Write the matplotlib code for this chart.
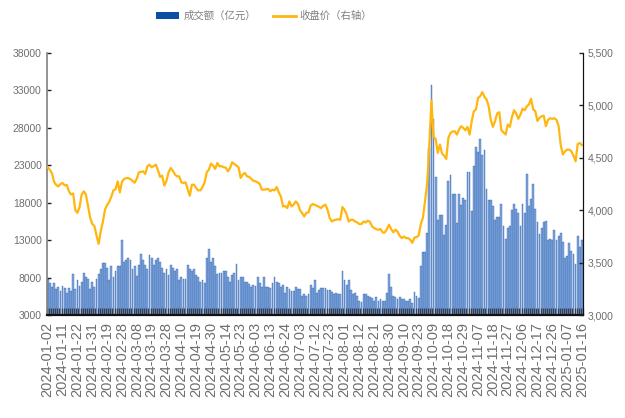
import numpy as np
import pandas as pd
import matplotlib
matplotlib.use('Agg')
import matplotlib.pyplot as plt
from matplotlib.ticker import FuncFormatter, FixedLocator
from matplotlib.patches import Patch
from matplotlib.lines import Line2D

# 交易日 (2024-01-02 ~ 2025-01-16), 去掉节假日
holidays = ['2024-02-09', '2024-02-12', '2024-02-13', '2024-02-14', '2024-02-15', '2024-02-16',
            '2024-04-04', '2024-04-05', '2024-05-01', '2024-05-02', '2024-05-03', '2024-06-10',
            '2024-09-16', '2024-09-17', '2024-10-01', '2024-10-02', '2024-10-03', '2024-10-04',
            '2024-10-07', '2025-01-01']
dates = pd.bdate_range('2024-01-02', '2025-01-16')
dates = dates[~dates.isin(pd.to_datetime(holidays))]
labels = [d.strftime('%Y-%m-%d') for d in dates]

# 成交额 (亿元)
volume = [
    7800, 7360, 6740, 7270, 6470, 6740, 6300, 6920, 6650, 6030,
    6650, 6300, 8500, 6470, 7720, 6920, 7500, 8700, 8130, 7900,
    6470, 7400, 6800, 7900, 8500, 9200, 10000, 10000, 9300, 7720,
    9560, 8130, 8960, 9560, 9560, 13100, 10150, 10350, 10600, 10350,
    9200, 9560, 8300, 9700, 11150, 10350, 9700, 9200, 10990, 10600,
    9700, 10350, 10600, 10150, 9300, 8700, 9200, 8400, 9700, 9300,
    8960, 9200, 7720, 8050, 7800, 7800, 9700, 9200, 8960, 9200,
    8400, 8130, 7500, 7720, 7360, 10600, 11800, 10150, 10700, 9560,
    8500, 8700, 8700, 8960, 8960, 8050, 7500, 8400, 8700, 9800,
    7720, 8100, 8100, 7450, 7450, 7180, 6830, 7050, 6920, 8100,
    7270, 6830, 8100, 6830, 6830, 6600, 7270, 8100, 7400, 7270,
    6830, 7050, 6030, 6830, 6470, 6300, 6300, 6830, 6470, 6470,
    5580, 5800, 5580, 5850, 7050, 6600, 7720, 6030, 6400, 6600,
    6600, 6600, 6400, 6400, 6170, 5850, 6030, 5850, 5850, 8900,
    7720, 7050, 7720, 6400, 5850, 6030, 5580, 4960, 4800, 5850,
    5850, 5580, 5400, 5250, 4960, 5400, 4850, 5130, 4960, 4850,
    6030, 8500, 6830, 5580, 5400, 5130, 5400, 5130, 5130, 4960,
    4960, 5130, 4700, 6170, 5580, 5350, 9560, 11400, 11400, 14000,
    25250, 33700, 29150, 21400, 15650, 16300, 16300, 13750, 15000, 20900,
    21700, 19200, 19150, 15250, 19150, 17650, 18650, 18400, 22100, 22100,
    16950, 22900, 25400, 24800, 26500, 24400, 25000, 19800, 18300, 18300,
    17600, 15700, 16150, 16150, 17850, 14900, 13200, 14650, 14900, 16970,
    17850, 17200, 16600, 14900, 17850, 16600, 21800, 17600, 18480, 20560,
    17200, 15420, 13870, 14650, 15420, 15560, 13000, 13150, 13000, 14400,
    13000, 13600, 14000, 12800, 10660, 10880, 12580, 11560, 11200, 9860,
    13600, 12100, 13000,
]

# 收盘价 (右轴)
close = [
    4408, 4385, 4350, 4270, 4240, 4227, 4250, 4259, 4237, 4240,
    4180, 4150, 4160, 4000, 3975, 4030, 4150, 4180, 4150, 4040,
    3930, 3870, 3850, 3760, 3680, 3800, 3890, 4005, 4050, 4080,
    4130, 4190, 4200, 4275, 4170, 4270, 4297, 4305, 4307, 4295,
    4280, 4262, 4300, 4361, 4365, 4370, 4345, 4420, 4434, 4409,
    4420, 4434, 4380, 4317, 4329, 4234, 4280, 4361, 4402, 4377,
    4340, 4323, 4323, 4265, 4260, 4265, 4200, 4138, 4243, 4243,
    4212, 4190, 4189, 4220, 4265, 4361, 4386, 4444, 4425, 4393,
    4450, 4418, 4420, 4409, 4405, 4370, 4402, 4456, 4440, 4425,
    4410, 4307, 4340, 4355, 4323, 4317, 4300, 4280, 4275, 4265,
    4250, 4196, 4196, 4200, 4203, 4180, 4196, 4189, 4221, 4170,
    4130, 4036, 4040, 4021, 4084, 4036, 4053, 4084, 4062, 4000,
    3973, 3941, 3975, 3979, 4043, 4059, 4050, 4043, 4031, 4021,
    4043, 4053, 4005, 3926, 3893, 3905, 3909, 3915, 3909, 4030,
    4005, 3960, 3893, 3909, 3909, 3893, 3884, 3868, 3868, 3893,
    3884, 3900, 3890, 3846, 3830, 3820, 3814, 3821, 3788, 3788,
    3821, 3862, 3821, 3790, 3814, 3798, 3757, 3735, 3750, 3735,
    3735, 3719, 3690, 3740, 3744, 3760, 3870, 3930, 4090, 4260,
    4620, 5045, 4700, 4679, 4545, 4625, 4540, 4520, 4488, 4690,
    4737, 4750, 4752, 4720, 4768, 4800, 4784, 4761, 4794, 4720,
    4847, 4943, 4959, 5071, 5086, 5124, 5080, 5054, 4990, 4860,
    4794, 4847, 4921, 4933, 4761, 4742, 4720, 4816, 4794, 4890,
    4952, 4920, 4870, 4911, 4966, 4952, 4990, 5007, 5061, 4960,
    4943, 4850, 4880, 4895, 4900, 4800, 4860, 4876, 4870, 4876,
    4860, 4800, 4620, 4530, 4561, 4577, 4577, 4561, 4520, 4466,
    4630, 4640, 4620,
]

n = len(labels)
x = np.arange(n)
grey = '#6e6e6e'

fig = plt.figure(figsize=(6.25, 4.18), dpi=100)
ax = fig.add_axes([0.0747, 0.2457, 0.8581, 0.6283])
ax2 = ax.twinx()

ax.bar(x, volume, width=0.85, color='#82a7db', edgecolor='#1f55a8', linewidth=0.25)
ax2.plot(x, close, color='#FFB60F', linewidth=1.6)

ax.set_xlim(-0.5, n - 0.5)
ax.set_ylim(3000, 38000)
ax.set_yticks(np.arange(3000, 38001, 5000))
ax2.set_ylim(3000, 5500)
ax2.set_yticks(np.arange(3000, 5501, 500))
ax2.yaxis.set_major_formatter(FuncFormatter(lambda v, p: f'{v:,.0f}'))

ax.set_xticks(x[::7])
ax.set_xticklabels(labels[::7], rotation=90, fontsize=10.5, color=grey,
                   family='Liberation Sans')
ax.tick_params(axis='x', which='major', length=0, pad=5)
ax.xaxis.set_minor_locator(FixedLocator(np.arange(-0.5, n, 1)))
ax.tick_params(axis='x', which='minor', direction='in', length=5, width=0.9, color='#3a3f4a')

for a in (ax, ax2):
    a.tick_params(axis='y', direction='in', length=3, width=1, color='#222222',
                  labelsize=7.5, labelcolor=grey)
    for lab in a.get_yticklabels():
        lab.set_family('Liberation Sans')
    a.spines['top'].set_visible(False)
ax.spines['left'].set_color('#808080')
ax.spines['left'].set_linewidth(1.2)
ax.spines['bottom'].set_color('#111111')
ax.spines['bottom'].set_linewidth(1.6)
ax2.spines['right'].set_color('#111111')
ax2.spines['left'].set_visible(False)
ax2.spines['bottom'].set_visible(False)

handles = [Patch(facecolor='#0B4EA2', edgecolor='none'),
           Line2D([0], [0], color='#FFB60F', linewidth=2)]
fig.legend(handles, ['成交额（亿元）', '收盘价（右轴）'], loc='center',
           bbox_to_anchor=(0.423, 0.962), ncol=2, frameon=False,
           prop={'family': ['Noto Sans CJK SC', 'DejaVu Sans'], 'size': 7.5},
           labelcolor='#7f7f7f', handlelength=2.2, handleheight=0.6,
           columnspacing=1.6, handletextpad=0.4)

fig.savefig('out.png', dpi=100)
